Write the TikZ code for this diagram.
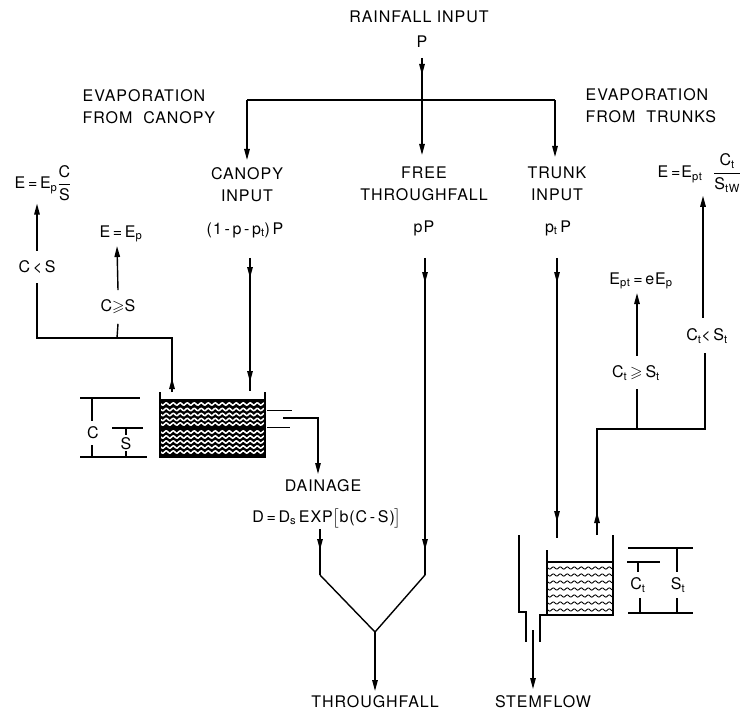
\documentclass[tikz,border=0pt]{standalone}
\usepackage{amsmath,amssymb}
\usepackage{fontspec}
\setmainfont[LetterSpace=6]{TeX Gyre Heros}
\usetikzlibrary{arrows.meta,decorations.markings}
\tikzset{
  txt/.style={font=\fontsize{16}{22}\selectfont, inner sep=0pt, align=center},
  arr/.style={-{Triangle[length=11pt,width=5.5pt]}},
  arrat/.style={postaction={decorate,decoration={markings,mark=at position #1 with {\arrow{Triangle[length=11pt,width=5.5pt]}}}}},
  wave/.style={line width=1.5pt, white},
  twave/.style={line width=0.9pt},
  dim/.style={line width=1.1pt},
}
\begin{document}
\begin{tikzpicture}[x=1pt,y=-1pt,line width=1.4pt]
\useasboundingbox (0,0) rectangle (749,711);

% ---------- text nodes ----------
\node[txt] (rain) at (419,17) {RAINFALL INPUT};
\node[txt] (P) at (422,42) {P};
\node[txt,align=left,anchor=west] (evapC) at (82,107) {EVAPORATION\\FROM\ \ CANOPY};
\node[txt,align=left,anchor=west] (evapT) at (585,106) {EVAPORATION\\FROM\ \ TRUNKS};
\node[txt] (canopy) at (247,185) {CANOPY\\INPUT};
\node[txt] (free) at (424,184) {FREE\\THROUGHFALL};
\node[txt] (trunk) at (557,184) {TRUNK\\INPUT};
\node[txt] (canopyP) at (245,230) {(1\,-\,p\,-\,p\textsubscript{t})\,P};
\node[txt] (freeP) at (424,228) {pP};
\node[txt] (trunkP) at (558,228) {p\textsubscript{t}\,P};
\node[txt,anchor=west] (E1) at (14,183) {E\,=\,E\textsubscript{p}$\dfrac{\mbox{C}}{\mbox{S}}$};
\node[txt] (CltS) at (37,267) {C\,<\,S};
\node[txt] (E2) at (121,234) {E\,=\,E\textsubscript{p}};
\node[txt] (CgeS) at (118,307) {C$\geqslant$S};
\node[txt] (Clab) at (93,433) {C};
\node[txt] (Slab) at (126,444) {S};
\node[txt] (dain) at (323,486) {DAINAGE};
\node[txt] (dform) at (327,518) {D\,=\,D\textsubscript{s}\,EXP$\big[$b(C\,-\,S)$\big]$};
\node[txt] (thr) at (375,702) {THROUGHFALL};
\node[txt] (stem) at (543,702) {STEMFLOW};
\node[txt,anchor=west] (E3) at (657,173) {E\,=E\textsubscript{pt}\ \ $\dfrac{\mbox{C\textsubscript{t}}}{\mbox{S\textsubscript{tW}}}$};
\node[txt] (CtltSt) at (707,336) {C\textsubscript{t}<\,S\textsubscript{t}};
\node[txt] (Ept) at (641,281) {E\textsubscript{pt}\,=\,eE\textsubscript{p}};
\node[txt] (CtgeSt) at (636,373) {C\textsubscript{t}$\,\geqslant\,$S\textsubscript{t}};
\node[txt] (Ctlab) at (638,585) {C\textsubscript{t}};
\node[txt] (Stlab) at (678,585) {S\textsubscript{t}};

% ---------- coordinates ----------
\coordinate (pTop) at (422,58);
\coordinate (freeTip) at (422,155);
\coordinate (splitL) at (247,100);
\coordinate (splitR) at (555,100);
\coordinate (canTip) at (247,160);
\coordinate (trTip) at (555,157);
\coordinate (cfTop) at (250,258);
\coordinate (cfBot) at (250,391);
\coordinate (ftTop) at (425,258);
\coordinate (ftBot) at (425,575);
\coordinate (ttTop) at (557,258);
\coordinate (ttBot) at (557,538);
\coordinate (dTop) at (320,529);
\coordinate (dBot) at (320,575);
\coordinate (yJoin) at (375,632);
\coordinate (thrTip) at (375,691);
\coordinate (evBox) at (172,392);
\coordinate (evJ) at (172,338);
\coordinate (evL) at (37,338);
\coordinate (evM) at (117,338);
\coordinate (tvBox) at (597,535);
\coordinate (tvJ) at (597,429);
\coordinate (tvM) at (637,429);
\coordinate (tvR) at (705,429);

% ---------- rainfall split ----------
\draw[arr,arrat=17pt] (pTop) -- (freeTip);
\draw (splitL) -- (splitR);
\draw[arr] (splitL) -- (canTip);
\draw[arr] (splitR) -- (trTip);

% ---------- inputs ----------
\draw[arrat=20pt,arrat=124pt] (cfTop) -- (cfBot);
\draw[arrat=25pt,arrat=292pt] (ftTop) -- (ftBot);
\draw[arrat=25pt,arrat=264pt] (ttTop) -- (ttBot);

% ---------- drainage / throughfall ----------
\draw[arrat=21pt] (dTop) -- (dBot);
\draw (dBot) -- (yJoin) -- (ftBot);
\draw[arr] (yJoin) -- (thrTip);

% ---------- canopy evaporation ----------
\draw[arrat=14pt] (evBox) -- (evJ) -- (evL) -- ([yshift=-9pt]CltS.south);
\draw[arr] ([yshift=9pt]CltS.north) -- ([yshift=-2pt]E1.south -| CltS);
\draw (evM) -- ([yshift=-9pt]CgeS.south);
\draw[arr] ([yshift=9pt]CgeS.north) -- ([yshift=-3pt]E2.south -| evM);

% ---------- trunk evaporation ----------
\draw[arrat=23pt] (tvBox) -- (tvJ) -- (tvR) -- ([yshift=-9pt]CtltSt.south -| tvR);
\draw (tvM) -- ([yshift=-8pt]CtgeSt.south -| tvM);
\draw[arr] ([yshift=9pt]CtgeSt.north -| tvM) -- ([yshift=-3pt]Ept.south -| tvM);
\draw[arr] ([yshift=10pt]CtltSt.north -| 703,0) -- ([yshift=-3pt]E3.south -| 703,0);

% ---------- canopy store ----------
\fill (160,400) rectangle (265,457);
\foreach \yy in {404,409.5,414.5,419.5,424, 432,437,442,447,452} {
  \draw[wave] plot[domain=161:264,samples=90] (\x,{\yy+1.2*sin((\x-161)*51.4)});
}
\draw[line width=2.6pt] (160,400) -- (265,400);
\draw[line width=2.6pt] (160,428) -- (265,428);
\draw[line width=2.4pt] (160,392) -- (160,457) -- (265,457) -- (265,392);
\draw[line width=1pt] (267,410) -- (292,410);
\draw[line width=1pt] (267,427) -- (290,427);
\draw[arr,line width=1.3pt] (283,418) -- (318,418) -- (318,474);

% canopy dimensions
\draw[dim] (80,398) -- (140,398);
\draw[dim] (92,398) -- (92,421);
\draw[dim] (92,445) -- (92,457);
\draw[dim] (112,428) -- (143,428);
\draw[dim] (126,428) -- (126,435);
\draw[dim] (126,451) -- (126,457);
\draw[dim] (80,457) -- (147,457);

% ---------- trunk store ----------
\foreach \yy in {568,575,...,612} {
  \draw[twave] plot[domain=548:612,samples=70] (\x,{\yy+1.1*sin((\x-548)*51.4)});
}
\draw[line width=1.6pt] (547,562) -- (613,562);
\draw[line width=1.6pt] (547,550) -- (547,615) -- (613,615) -- (613,535);
\draw[line width=1.3pt] (519,535) -- (519,612) -- (526,612) -- (526,642);
\draw[line width=1.3pt] (547,615) -- (540,615) -- (540,642);
\draw[arr,line width=1.3pt] (533,630) -- (533,689);

% trunk dimensions
\draw[dim] (628,548) -- (693,548);
\draw[dim] (677,548) -- (677,572);
\draw[dim] (677,598) -- (677,613);
\draw[dim] (627,562) -- (660,562);
\draw[dim] (638,562) -- (638,572);
\draw[dim] (640,598) -- (640,613);
\draw[dim] (628,613) -- (693,613);
\end{tikzpicture}
\end{document}
